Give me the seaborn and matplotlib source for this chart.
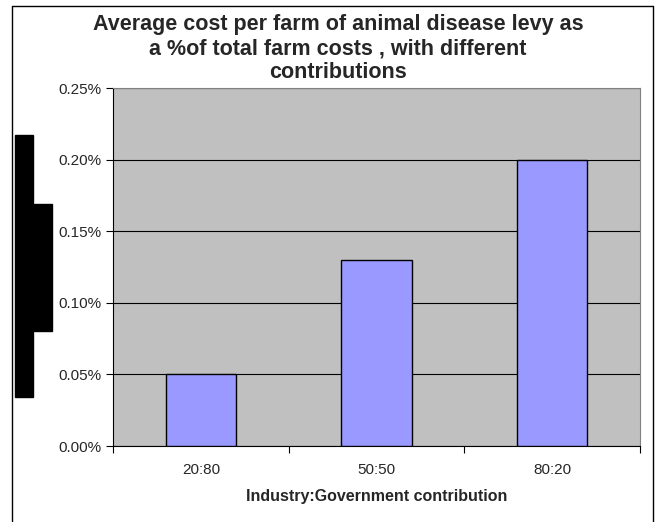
import matplotlib
matplotlib.use('Agg')
import matplotlib.pyplot as plt
import seaborn as sns
import pandas as pd
from matplotlib.ticker import FuncFormatter, FixedLocator
from matplotlib.patches import Rectangle
from matplotlib.lines import Line2D

# Daten
categories = ['20:80', '50:50', '80:20']
levy_pct = [0.05, 0.13, 0.20]
y_ticks = [0.00, 0.05, 0.10, 0.15, 0.20, 0.25]

df = pd.DataFrame({'contribution': categories, 'levy': levy_pct})

sns.set_style('white')
plt.rcParams['font.family'] = ['Liberation Sans', 'DejaVu Sans']

fig = plt.figure(figsize=(6.57, 5.22), dpi=100)
ax = fig.add_axes([113 / 657, 1 - 446 / 522, (640 - 113) / 657, (446 - 88) / 522])
ax.set_facecolor('#C0C0C0')

sns.barplot(data=df, x='contribution', y='levy', color='#9999FF', width=0.4,
            saturation=1, edgecolor='black', linewidth=1.0, ax=ax, zorder=3)

ax.set_xlim(-0.5, 2.5)
ax.set_ylim(0, 0.25)
ax.set_yticks(y_ticks)
ax.yaxis.set_major_formatter(FuncFormatter(lambda v, p: f'{v:.2f}%'))
ax.grid(axis='y', color='black', linewidth=0.8, zorder=1)
ax.set_axisbelow(True)

# Kategorie-Ticks zwischen den Balken
ax.xaxis.set_minor_locator(FixedLocator([-0.5, 0.5, 1.5, 2.5]))
ax.tick_params(axis='x', which='major', length=0, labelsize=11, pad=12)
ax.tick_params(axis='x', which='minor', length=5, width=0.8, color='black', direction='out', bottom=True)
ax.tick_params(axis='y', length=5, width=0.8, color='black', direction='out', left=True, labelsize=11, pad=3)

for s in ['left', 'bottom']:
    ax.spines[s].set_color('black')
    ax.spines[s].set_linewidth(0.8)
for s in ['top', 'right']:
    ax.spines[s].set_color('#808080')
    ax.spines[s].set_linewidth(0.8)

ax.set_xlabel('Industry:Government contribution', fontsize=11.5, fontweight='bold', labelpad=9)
ax.set_ylabel('')

fig.text(338 / 657, 1 - 14 / 522,
         'Average cost per farm of animal disease levy as\na %of total farm costs , with different\ncontributions',
         ha='center', va='top', fontsize=15.5, fontweight='bold', linespacing=1.2)

# schwarze Balken links (verdeckte Achsenbeschriftung)
fig.patches.append(Rectangle((15 / 657, 1 - 397 / 522), 18 / 657, 262 / 522,
                             transform=fig.transFigure, color='black', figure=fig))
fig.patches.append(Rectangle((34 / 657, 1 - 331 / 522), 18 / 657, 127 / 522,
                             transform=fig.transFigure, color='black', figure=fig))

# Rahmen
for xs, ys in [([12, 12], [6, 522]), ([12, 653], [6, 6]), ([653, 653], [6, 522])]:
    fig.add_artist(Line2D([x / 657 for x in xs], [1 - y / 522 for y in ys],
                          transform=fig.transFigure, color='black', linewidth=1.0))

fig.savefig('out.png', dpi=100)
